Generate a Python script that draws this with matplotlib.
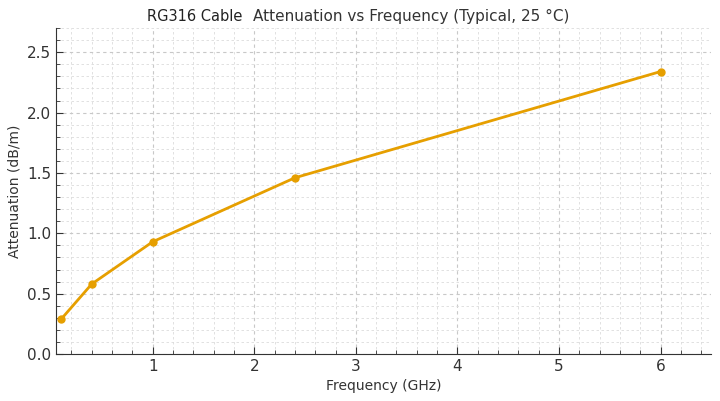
import numpy as np
import matplotlib
matplotlib.use("Agg")
import matplotlib.pyplot as plt
from matplotlib.ticker import MultipleLocator

# typical RG316 attenuation readings
freq_ghz = [0.1, 0.4, 1.0, 2.4, 6.0]
atten_db_m = [0.29, 0.58, 0.93, 1.46, 2.34]

plt.rcParams['font.family'] = ['DejaVu Sans']

fig, ax = plt.subplots(figsize=(7.2, 4.01), dpi=100)
fig.subplots_adjust(left=0.078, right=0.988, bottom=0.117, top=0.93)

ax.plot(freq_ghz, atten_db_m, color="#E69F00", lw=2, marker="o", ms=5)

ax.set_xlim(0.05, 6.5)
ax.set_ylim(0, 2.7)
ax.xaxis.set_major_locator(MultipleLocator(1))
ax.xaxis.set_minor_locator(MultipleLocator(0.2))
ax.yaxis.set_major_locator(MultipleLocator(0.5))
ax.yaxis.set_minor_locator(MultipleLocator(0.1))
ax.set_xticks([1, 2, 3, 4, 5, 6])

ax.grid(which="major", ls=(0, (3, 3)), color="#c8c8c8", lw=0.8)
ax.grid(which="minor", ls=(0, (3, 3)), color="#dcdcdc", lw=0.6)
ax.set_axisbelow(True)

for s in ["top", "right"]:
    ax.spines[s].set_visible(False)
for s in ["left", "bottom"]:
    ax.spines[s].set_color("#333333")

ax.tick_params(which="both", direction="in", colors="#333333", labelsize=11)
ax.tick_params(which="major", length=5)
ax.tick_params(which="minor", length=3)

ax.set_xlabel("Frequency (GHz)", fontsize=10, color="#333333")
ax.set_ylabel("Attenuation (dB/m)", fontsize=10, color="#333333")

# title in two pieces, like the original
fig.text(0.204, 0.958, "RG316 Cable", fontsize=10.5, color="#222222", ha="left", va="center")
fig.text(0.352, 0.958, "Attenuation vs Frequency (Typical, 25 °C)", fontsize=11,
         color="#333333", ha="left", va="center")

fig.savefig("out.png", dpi=100)
